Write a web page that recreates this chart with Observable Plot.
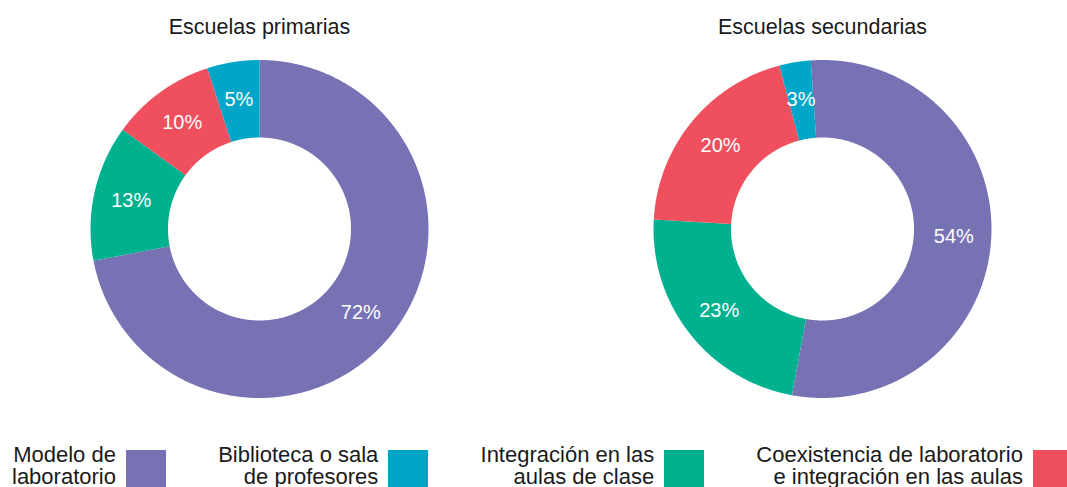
<!DOCTYPE html>
<html>
<head>
<meta charset="utf-8">
<script src="https://cdn.jsdelivr.net/npm/d3@7"></script>
<script src="https://cdn.jsdelivr.net/npm/@observablehq/plot@0.6"></script>
<style>
  html, body { margin: 0; padding: 0; background: #fff; overflow: hidden; }
  body { width: 1067px; height: 487px; font-family: "Liberation Sans", Arial, sans-serif; color: #1a1a1a; }
  #legend { display: flex; justify-content: space-between; width: 1061px; padding-left: 12px; margin-top: 18.8px; }
  .item { display: flex; align-items: flex-start; }
  .item .txt { text-align: right; font-size: 22px; line-height: 22.5px; white-space: nowrap; }
  .item .sw { width: 40px; height: 40px; margin-left: 10px; margin-top: 5.8px; flex: none; }
</style>
</head>
<body>
<div id="chart"></div>
<div id="legend"></div>
<script>
// ---- data ----
const schools = ["Escuelas primarias", "Escuelas secundarias"];
const categories = ["Modelo de laboratorio", "Integración en las aulas de clase", "Coexistencia de laboratorio e integración en las aulas", "Biblioteca o sala de profesores"];
const primaryValues = [72, 13, 10, 5];
const secondaryValues = [54, 23, 20, 3];
const startAngles = [0, -4]; // degrees, rotation of each donut
const colors = ["#7772B4", "#00B18F", "#F0505E", "#00A6C7"];
const legendOrder = [0, 3, 1, 2];
const legendLines = [
  ["Modelo de", "laboratorio"],
  ["Integración en las", "aulas de clase"],
  ["Coexistencia de laboratorio", "e integración en las aulas"],
  ["Biblioteca o sala", "de profesores"]
];

// ---- build ring polygons ----
const innerR = 91.5 / 169;
const labelR = 131.5 / 169;
const seriesValues = [primaryValues, secondaryValues];
const ringPoints = [];
const labels = [];
schools.forEach((school, si) => {
  const rows = categories.map((c, i) => ({category: c, value: seriesValues[si][i]}));
  const a0 = startAngles[si] * Math.PI / 180;
  const arcs = d3.pie().sort(null).value(d => d.value).startAngle(a0).endAngle(a0 + 2 * Math.PI)(rows);
  arcs.forEach((a, k) => {
    const key = school + "|" + k;
    const n = Math.max(2, Math.ceil((a.endAngle - a.startAngle) / (0.4 * Math.PI / 180)));
    for (let j = 0; j <= n; j++) {
      const t = a.startAngle + (a.endAngle - a.startAngle) * j / n;
      ringPoints.push({school, key, category: a.data.category, x: Math.sin(t), y: Math.cos(t)});
    }
    for (let j = n; j >= 0; j--) {
      const t = a.startAngle + (a.endAngle - a.startAngle) * j / n;
      ringPoints.push({school, key, category: a.data.category, x: innerR * Math.sin(t), y: innerR * Math.cos(t)});
    }
    const m = (a.startAngle + a.endAngle) / 2;
    labels.push({school, text: a.data.value + "%", x: labelR * Math.sin(m), y: labelR * Math.cos(m)});
  });
});

const chart = Plot.plot({
  width: 1067,
  height: 425,
  marginLeft: 89.5,
  marginRight: 76.5,
  marginTop: 59.5,
  marginBottom: 27.5,
  style: {fontFamily: '"Liberation Sans", Arial, sans-serif', color: "#1a1a1a", background: "#fff"},
  fx: {domain: schools, paddingInner: 0.4, paddingOuter: 0, axis: null, label: null},
  x: {domain: [-1, 1], axis: null},
  y: {domain: [-1, 1], axis: null},
  color: {domain: categories, range: colors},
  marks: [
    Plot.line(ringPoints, {fx: "school", x: "x", y: "y", z: "key", fill: "category", stroke: "none", curve: "linear-closed"}),
    Plot.text(labels, {fx: "school", x: "x", y: "y", text: "text", fill: "white", fontSize: 20}),
    Plot.text(schools, {fx: d => d, text: d => d, frameAnchor: "top", lineAnchor: "bottom", dy: -26.3, fontSize: 21.5, fill: "#1a1a1a"})
  ]
});
document.getElementById("chart").appendChild(chart);

// ---- legend ----
const legend = document.getElementById("legend");
legendOrder.forEach(i => {
  const item = document.createElement("div");
  item.className = "item";
  const txt = document.createElement("div");
  txt.className = "txt";
  txt.innerHTML = legendLines[i].join("<br>");
  const sw = document.createElement("div");
  sw.className = "sw";
  sw.style.background = colors[i];
  item.appendChild(txt);
  item.appendChild(sw);
  legend.appendChild(item);
});
</script>
</body>
</html>
